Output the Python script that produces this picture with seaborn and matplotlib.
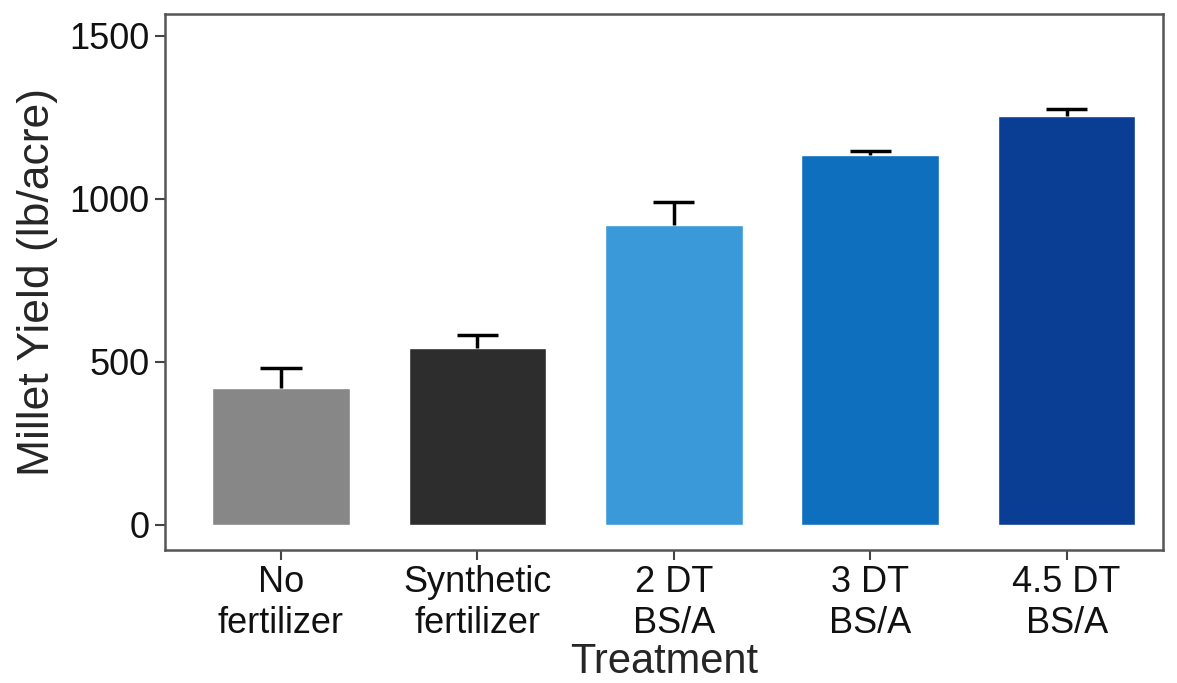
import matplotlib
matplotlib.use("Agg")
import matplotlib.pyplot as plt
import seaborn as sns
import pandas as pd
import numpy as np

treatments = ["No\nfertilizer", "Synthetic\nfertilizer", "2 DT\nBS/A", "3 DT\nBS/A", "4.5 DT\nBS/A"]
yield_mean = [421, 542, 920, 1134, 1255]
yield_err = [60, 41, 70, 13, 21]
bar_colors = ["#878787", "#2d2d2d", "#3a9ad9", "#0f6fbf", "#0a3e94"]

sns.set_theme(style="white")
plt.rcParams["font.family"] = ["Liberation Sans", "DejaVu Sans"]

df = pd.DataFrame({"Treatment": treatments, "Yield": yield_mean})

fig = plt.figure(figsize=(11.77, 6.83), dpi=100)
ax = fig.add_axes([0.1402, 0.1947, 0.988 - 0.1402, 0.9795 - 0.1947])

sns.barplot(data=df, x="Treatment", y="Yield", hue="Treatment", palette=bar_colors,
            legend=False, width=0.7, saturation=1, ax=ax, errorbar=None)

xs = np.arange(len(treatments))
tops = np.array(yield_mean) + np.array(yield_err)
ax.vlines(xs, yield_mean, tops, colors="black", linewidth=2.5, zorder=3)
ax.hlines(tops, xs - 0.105, xs + 0.105, colors="black", linewidth=2.5, zorder=3)

ax.set_xlim(-0.59, 4.49)
ax.set_ylim(-77, 1567)
ax.set_yticks([0, 500, 1000, 1500])
ax.set_xlabel("Treatment", fontsize=30, labelpad=1)
ax.set_ylabel("Millet Yield (lb/acre)", fontsize=32, labelpad=8)
ax.tick_params(axis="both", labelsize=26, length=7, width=1.5, color="#444444",
               labelcolor="#111111", direction="out", pad=4)
ax.tick_params(left=True, bottom=True)
for s in ax.spines.values():
    s.set_color("#555555")
    s.set_linewidth(1.8)
ax.grid(False)

fig.savefig("out.png", dpi=100)
